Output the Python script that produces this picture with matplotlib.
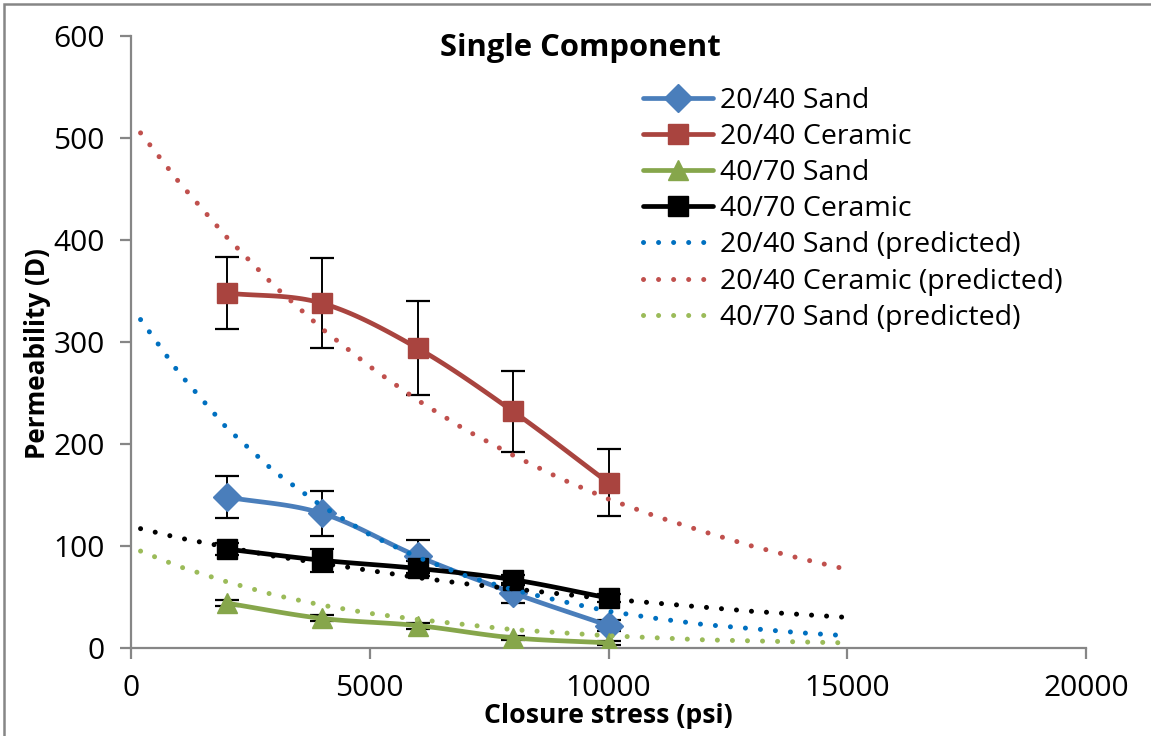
import numpy as np
import matplotlib
matplotlib.use("Agg")
import matplotlib.pyplot as plt
from matplotlib.lines import Line2D
from matplotlib.patches import Rectangle

plt.rcParams['font.family'] = ['Open Sans', 'DejaVu Sans']

# Measured permeability (D) vs closure stress (psi)
stress = [2000, 4000, 6000, 8000, 10000]

sand_2040 = [148, 132, 90, 54, 22]
sand_2040_err = [21, 22, 16, 10, 5]

ceramic_2040 = [348, 338, 294, 232, 162]
ceramic_2040_err = [35, 44, 46, 40, 33]

sand_4070 = [44, 29, 22, 10, 5]
sand_4070_err = [3, 3, 3, 2, 2]

ceramic_4070 = [97, 86, 78, 67, 49]
ceramic_4070_err = [6, 11, 7, 5, 4]

# Model predictions
pred_stress = [200, 1000, 2000, 3000, 4000, 5000, 6000, 7000, 8000,
               9000, 10000, 11000, 12000, 13000, 14000, 15000]
pred_sand_2040 = [322, 270, 216, 173, 139, 111, 89, 71, 57,
                  46, 36, 29, 23, 19, 15, 12]
pred_ceramic_2040 = [505, 457, 403, 355, 313, 276, 243, 214, 189,
                     166, 146, 129, 114, 100, 88, 77]
pred_sand_4070 = [95, 80, 65, 52, 42, 34, 28, 23, 18,
                  15, 12, 10, 8, 7, 6, 5]
pred_ceramic_4070 = [117, 108, 99, 90, 83, 76, 69, 63, 58,
                     53, 48, 44, 40, 36, 33, 30]

x_ticks = [0, 5000, 10000, 15000, 20000]
y_ticks = [0, 100, 200, 300, 400, 500, 600]

BLUE = '#4A7EBB'
RED = '#A9443F'
GREEN = '#86A64B'
BLACK = '#000000'
P_BLUE = '#0070C0'
P_RED = '#C0504D'
P_GREEN = '#9BBB59'
AXIS_GREY = '#868686'


def smooth(x, y, n=30):
    """Catmull-Rom curve through the points, for a smoothed line look."""
    x = np.asarray(x, float)
    y = np.asarray(y, float)
    px = np.concatenate([[2 * x[0] - x[1]], x, [2 * x[-1] - x[-2]]])
    py = np.concatenate([[2 * y[0] - y[1]], y, [2 * y[-1] - y[-2]]])
    xs, ys = [], []
    t = np.linspace(0, 1, n)
    for i in range(1, len(px) - 2):
        for arr, out in ((px, xs), (py, ys)):
            p0, p1, p2, p3 = arr[i - 1], arr[i], arr[i + 1], arr[i + 2]
            seg = 0.5 * ((2 * p1) + (-p0 + p2) * t
                         + (2 * p0 - 5 * p1 + 4 * p2 - p3) * t ** 2
                         + (-p0 + 3 * p1 - 3 * p2 + p3) * t ** 3)
            out.extend(seg if i == 1 else seg[1:])
    return np.array(xs), np.array(ys)


W, H = 1151, 736
fig = plt.figure(figsize=(W / 100, H / 100), dpi=100)
fig.patch.set_facecolor('white')

# chart frame
fig.patches.append(Rectangle((3.5 / W, -0.1), 1.2, 1 - 4.0 / H + 0.1,
                             transform=fig.transFigure, fill=False,
                             edgecolor=AXIS_GREY, linewidth=1.8))

ax = fig.add_axes([131 / W, 1 - 648 / H, (1086 - 131) / W, (648 - 36) / H])

lw = 3.4
ms = 14
series = [
    (sand_2040, sand_2040_err, BLUE, 'D', ms * 1.0, '20/40 Sand'),
    (ceramic_2040, ceramic_2040_err, RED, 's', ms, '20/40 Ceramic'),
    (sand_4070, sand_4070_err, GREEN, '^', ms, '40/70 Sand'),
    (ceramic_4070, ceramic_4070_err, BLACK, 's', ms, '40/70 Ceramic'),
]

handles = []
for vals, err, col, mk, msz, lab in series:
    ax.errorbar(stress, vals, yerr=err, fmt='none', ecolor='black',
                elinewidth=1.4, capsize=8.5, capthick=1.6, zorder=2)
    sx, sy = smooth(stress, vals)
    ax.plot(sx, sy, color=col, lw=lw, solid_capstyle='round', zorder=3)
    ax.plot(stress, vals, linestyle='none', marker=mk, markersize=msz,
            color=col, markeredgecolor=col, zorder=4)
    handles.append(Line2D([], [], color=col, lw=lw, marker=mk,
                          markersize=msz, markeredgecolor=col,
                          solid_capstyle='round', label=lab))

dot_kw = dict(lw=3.6, linestyle=(0, (0.01, 3.0)), dash_capstyle='round',
              zorder=5)
preds = [
    (pred_sand_2040, P_BLUE, '20/40 Sand (predicted)'),
    (pred_ceramic_2040, P_RED, '20/40 Ceramic (predicted)'),
    (pred_sand_4070, P_GREEN, '40/70 Sand (predicted)'),
    (pred_ceramic_4070, BLACK, None),
]
for vals, col, lab in preds:
    ax.plot(pred_stress, vals, color=col, **dot_kw)
    if lab:
        handles.append(Line2D([], [], color=col, label=lab, **dot_kw))

ax.set_xlim(0, 20000)
ax.set_ylim(0, 600)
ax.set_xticks(x_ticks)
ax.set_yticks(y_ticks)
for s in ('top', 'right'):
    ax.spines[s].set_visible(False)
for s in ('left', 'bottom'):
    ax.spines[s].set_color(AXIS_GREY)
    ax.spines[s].set_linewidth(1.6)
ax.tick_params(axis='both', direction='out', length=8, width=1.6,
               color=AXIS_GREY, labelsize=21.5, labelcolor='black')
ax.tick_params(axis='y', pad=11)
ax.tick_params(axis='x', pad=11)

fig.text(608 / W, 1 - 716 / H, 'Closure stress (psi)', ha='center',
         va='center', fontsize=19.2, fontweight='bold')
fig.text(38 / W, 1 - 354 / H, 'Permeability (D)', ha='center',
         va='center', rotation=90, fontsize=18.8, fontweight='bold')
fig.text(580 / W, 1 - 48 / H, 'Single Component', ha='center',
         va='center', fontsize=22.3, fontweight='bold')

leg = ax.legend(handles=handles, loc='upper left',
                bbox_to_anchor=(643 / W, 1 - 87 / H),
                bbox_transform=fig.transFigure, frameon=False,
                fontsize=20.5, handlelength=2.45, handletextpad=0.25,
                labelspacing=0.285, borderpad=0, borderaxespad=0,
                numpoints=1)

fig.savefig('out.png', dpi=100, facecolor='white')
